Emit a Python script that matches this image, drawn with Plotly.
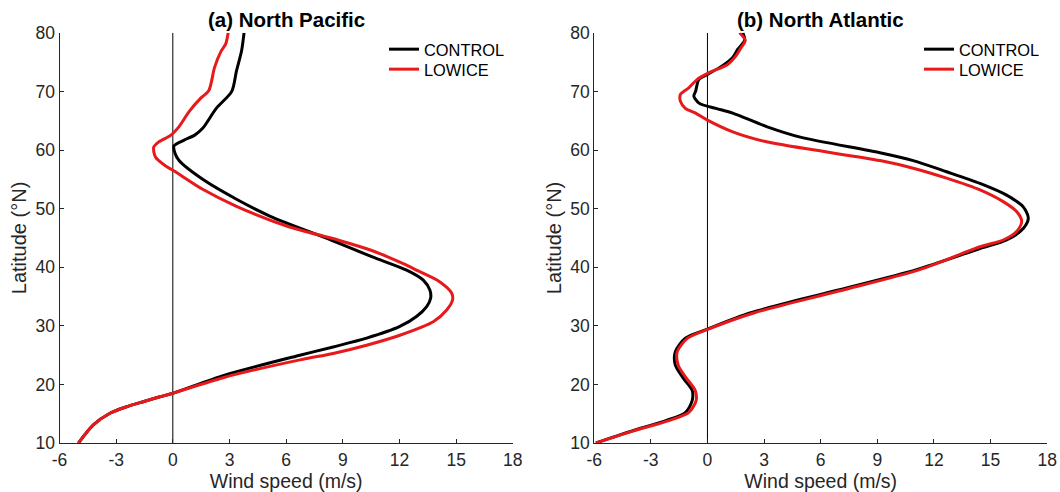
import plotly.graph_objects as go

# ---- data (latitude in degN, zonal wind in m/s) ----
np_ctrl_lat = [10.0, 13.1, 15.1, 16.2, 17.06, 17.9, 18.5, 21.6, 25.0, 26.4, 27.9, 29.9, 31.6, 33.3, 34.7, 36.1,
               37.8, 39.5, 41.8, 44.65, 48.7, 51.6, 55.0, 58.2, 59.4, 60.7, 61.7, 62.5, 63.7, 67.1, 70.0,
               73.5, 76.95, 80.0]
np_ctrl_u = [-5.0, -4.21, -3.33, -2.45, -1.57, -0.68, 0.0, 2.75, 6.73, 8.49, 10.26, 12.02, 12.9, 13.44, 13.65, 13.61,
             13.26, 12.38, 10.53, 8.38, 5.16, 3.37, 1.58, 0.33, 0.12, 0.06, 0.6, 1.14, 1.58, 2.3, 3.12,
             3.37, 3.64, 3.77]

np_low_lat = [10.0, 13.1, 15.1, 16.2, 17.06, 17.9, 18.5, 21.2, 24.2, 25.3, 26.7, 28.4, 30.7, 32.7, 34.4, 35.6,
              37.5, 39.5, 40.6, 42.9, 44.65, 47.0, 50.4, 53.3, 56.5, 57.3, 58.8, 60.5, 61.4, 62.5, 64.0, 66.6,
              68.9, 70.1, 74.1, 76.95, 78.1, 80.0]
np_low_u = [-5.0, -4.21, -3.33, -2.45, -1.57, -0.68, 0.0, 2.7, 6.73, 8.49, 10.26, 12.02, 13.79, 14.5, 14.81, 14.76,
            14.14, 12.9, 12.2, 10.5, 8.74, 6.06, 3.37, 1.58, 0.03, -0.39, -0.92, -1.01, -0.74, -0.12, 0.33, 0.87,
            1.49, 1.9, 2.21, 2.57, 2.8, 2.93]

na_ctrl_lat = [10.05, 12.05, 13.8, 15.2, 17.25, 19.0, 21.0, 23.3, 25.6, 27.9, 29.45, 32.2, 35.9, 39.6, 43.2,
               44.65, 46.6, 48.4, 50.3, 52.3, 54.3, 56.3, 58.2, 59.55, 62.2, 64.0, 66.3, 67.1, 68.0, 69.2, 70.0,
               72.05, 72.9, 74.4, 75.8, 77.2, 78.7, 80.0]
na_ctrl_u = [-5.91, -4.03, -2.24, -1.17, -0.81, -0.81, -1.26, -1.7, -1.7, -1.17, 0.0, 2.25, 6.66, 11.08, 14.44,
             15.85, 16.73, 17.0, 16.73, 15.85, 14.44, 12.67, 10.9, 9.14, 4.92, 3.13, 1.34, 0.45, -0.45, -0.72, -0.63,
             -0.45, 0.0, 0.8, 1.34, 1.61, 1.97, 1.88]

na_low_lat = [10.05, 12.05, 13.8, 15.2, 17.25, 19.0, 21.0, 23.3, 25.6, 27.9, 29.45, 32.2, 35.9, 39.6, 43.5,
              44.65, 46.1, 47.8, 49.5, 51.2, 53.2, 55.2, 56.9, 58.2, 61.4, 63.1, 65.1, 66.3, 67.1, 68.3, 69.5,
              70.6, 72.05, 73.2, 74.6, 76.1, 77.5, 78.7, 80.0]
na_low_u = [-5.91, -3.95, -2.1, -1.0, -0.6, -0.65, -1.1, -1.55, -1.6, -1.05, 0.05, 2.45, 6.9, 11.25, 14.44,
            15.67, 16.38, 16.65, 16.38, 15.67, 14.44, 12.67, 10.9, 9.14, 3.13, 1.34, 0.0, -0.63, -1.17, -1.43, -1.43,
            -0.99, -0.54, 0.09, 1.07, 1.52, 1.79, 2.0, 1.7]

zero_x = [0, 0]
zero_y = [10, 80]

panel_titles = ["<b>(a) North Pacific</b>", "<b>(b) North Atlantic</b>"]
x_ticks = [-6, -3, 0, 3, 6, 9, 12, 15, 18]
x_tick_labels = ["-6", "-3", "0", "3", "6", "9", "12", "15", "18"]
y_ticks = [10, 20, 30, 40, 50, 60, 70, 80]
y_tick_labels = ["10", "20", "30", "40", "50", "60", "70", "80"]
series_names = ["CONTROL", "LOWICE"]
series_colors = ["#000000", "#e8191b"]

FONT = "Liberation Sans, Arial, Helvetica, sans-serif"
TXT = "#262626"

fig = go.Figure()

panels = [
    ("x", "y", ["legend", "legend2"], [(np_ctrl_u, np_ctrl_lat), (np_low_u, np_low_lat)]),
    ("x2", "y2", ["legend3", "legend4"], [(na_ctrl_u, na_ctrl_lat), (na_low_u, na_low_lat)]),
]

for xa, ya, lgs, series in panels:
    fig.add_trace(go.Scatter(x=zero_x, y=zero_y, mode="lines", xaxis=xa, yaxis=ya,
                             line=dict(color="black", width=1), showlegend=False, hoverinfo="skip"))
    for (u, lat), name, col, lg in zip(series, series_names, series_colors, lgs):
        fig.add_trace(go.Scatter(x=u, y=lat, mode="lines", name=name, xaxis=xa, yaxis=ya, legend=lg,
                                 line=dict(color=col, width=3, shape="spline", smoothing=0.8)))

ydom = [1 - 443.1 / 492, 1 - 32.8 / 492]
axis_common = dict(showgrid=False, zeroline=False, showline=True, linecolor=TXT, linewidth=1,
                   ticks="inside", ticklen=4, tickcolor=TXT, mirror=False, automargin=False,
                   tickfont=dict(family=FONT, size=17.5, color=TXT))
xt = dict(text="Wind speed (m/s)", font=dict(size=19.5, color=TXT), standoff=7)
yt = dict(text="Latitude (°N)", font=dict(size=20, color=TXT), standoff=3)


def leg(xpx, ytop):
    return dict(x=xpx / 1060, y=1 - ytop / 492, xanchor="left", yanchor="top", bgcolor="rgba(0,0,0,0)",
                font=dict(family=FONT, size=16.4, color="black"), itemwidth=30, tracegroupgap=0)


fig.update_layout(
    width=1060, height=492,
    margin=dict(l=0, r=0, t=0, b=0),
    paper_bgcolor="white", plot_bgcolor="white",
    font=dict(family=FONT, color=TXT),
    xaxis=dict(domain=[59.5 / 1060, 512.8 / 1060], range=[-6, 18], tickvals=x_ticks, ticktext=x_tick_labels,
               anchor="y", title=xt, ticklabelstandoff=1, **axis_common),
    yaxis=dict(domain=ydom, range=[10, 80], tickvals=y_ticks, ticktext=y_tick_labels, anchor="x",
               title=yt, **axis_common),
    xaxis2=dict(domain=[594.2 / 1060, 1047.2 / 1060], range=[-6, 18], tickvals=x_ticks, ticktext=x_tick_labels,
                anchor="y2", title=xt, ticklabelstandoff=1, **axis_common),
    yaxis2=dict(domain=ydom, range=[10, 80], tickvals=y_ticks, ticktext=y_tick_labels, anchor="x2",
                title=yt, **axis_common),
    legend=leg(384, 32),
    legend2=leg(384, 52),
    legend3=leg(919, 32),
    legend4=leg(919, 52),
    showlegend=True,
)

for i, t in enumerate(panel_titles):
    xr = "x domain" if i == 0 else "x2 domain"
    yr = "y domain" if i == 0 else "y2 domain"
    fig.add_annotation(text=t, xref=xr, yref=yr, x=0.5, y=1.0, xanchor="center", yanchor="bottom",
                       yshift=0, showarrow=False, font=dict(family=FONT, size=20.5, color="black"))

fig.write_html("out.html")
